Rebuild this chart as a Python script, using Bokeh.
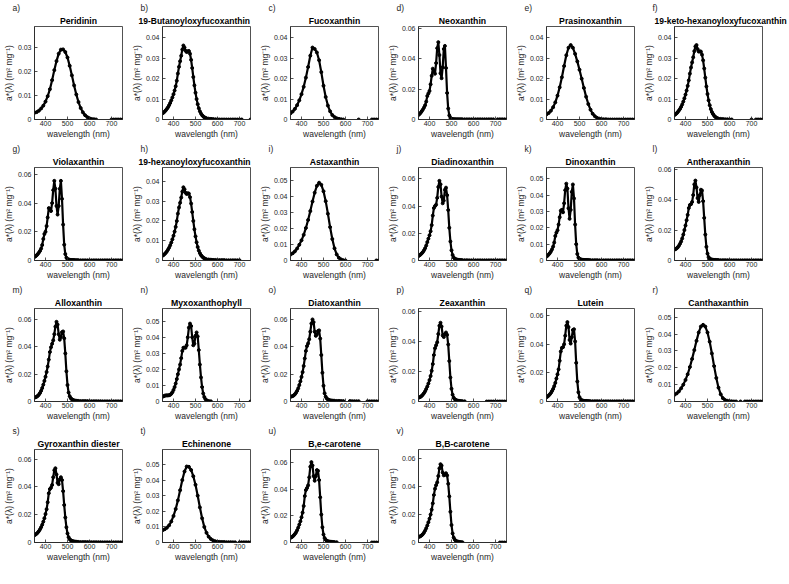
from bokeh.plotting import figure
from bokeh.layouts import gridplot
from bokeh.models import FixedTicker, CustomJSTickFormatter, Range1d, Title, ColumnDataSource
from bokeh.embed import file_html
from bokeh.resources import INLINE

N = float("nan")

# wavelength grids (nm)
WL10 = list(range(350, 751, 10))
WL5 = list(range(350, 551, 5)) + list(range(560, 751, 10))

X_TICKS = [400, 500, 600, 700]
Y_TICKS_01 = [0, 0.01, 0.02, 0.03, 0.04, 0.05, 0.06]
Y_TICKS_02 = [0, 0.02, 0.04, 0.06]

letters = ["a)", "b)", "c)", "d)", "e)", "f)", "g)", "h)", "i)", "j)", "k)",
           "l)", "m)", "n)", "o)", "p)", "q)", "r)", "s)", "t)", "u)", "v)"]
names = ["Peridinin", "19-Butanoyloxyfucoxanthin", "Fucoxanthin", "Neoxanthin",
         "Prasinoxanthin", "19-keto-hexanoyloxyfucoxanthin", "Violaxanthin",
         "19-hexanoyloxyfucoxanthin", "Astaxanthin", "Diadinoxanthin", "Dinoxanthin",
         "Antheraxanthin", "Alloxanthin", "Myxoxanthophyll", "Diatoxanthin", "Zeaxanthin",
         "Lutein", "Canthaxanthin", "Gyroxanthin diester", "Echinenone",
         "B,e-carotene", "B,B-carotene"]
y_max = [0.039, 0.0455, 0.0455, 0.0613, 0.0456, 0.0456, 0.0648, 0.047, 0.058, 0.0683, 0.0569,
         0.0611, 0.0677, 0.0579, 0.068, 0.062, 0.065, 0.0552, 0.067, 0.0596, 0.07, 0.0665]
y_step = [1, 1, 1, 2, 1, 1, 2, 1, 1, 2, 1, 2, 2, 1, 2, 2, 2, 1, 2, 1, 2, 2]

peridinin = [.0028, .0031, .0037, .0046, .0058, .0075, .0098, .0127, .0165, .0207, .0245, .0276, .0293,
             .0294, .0283, .0260, .0225, .0185, .0143, .0105, .0073, .0048, .0030, .0018, .0010, .0005,
             .0002, .0001, 0, N, N, N, N, N, N, 0, 0, 0, 0, 0, 0]
but_fuco = [.0030, .0034, .0039, .0045, .0052, .0060, .0070, .0081, .0094, .0108, .0124, .0142, .0163,
            .0190, .0225, .0258, .0285, .0312, .0342, .0362, .0352, .0336, .0330, .0334, .0335, .0322,
            .0292, .0252, .0208, .0167, .0131, .0100, .0075, .0055, .0040, .0029, .0021, .0015, .0011,
            .0008, .0006,
            .0004, .0003, .0002, .0001, .0001, 0, 0, 0, 0, 0, 0, 0, 0, 0, 0, 0, N, N, N, 0]
fucoxanthin = [.0030, .0039, .0052, .0070, .0094, .0124, .0160, .0205, .0257, .0312, .0352, .0345, .0328,
               .0290, .0232, .0165, .0110, .0068, .0040, .0022, .0012, .0006, .0003, .0001, 0, N, N, N,
               N, N, N, 0, N, N, N, N, N, 0, 0, 0, 0]
neoxanthin = [.0030, .0037, .0045, .0055, .0066, .0079, .0094, .0118, .0155, .0172, .0188, .0232, .0288,
              .0335, .0318, .0302, .0372, .0470, .0510, .0425, .0305, .0272, .0345, .0465, .0485, .0340,
              .0175, .0072, .0027, .0011, .0005, .0003, .0002, .0002, .0001, .0001, .0001, .0001, .0001,
              .0001, .0001,
              .0001, .0001, .0001, .0001, .0001, .0001, .0001, .0001, .0001, .0001, .0001, .0001, .0001,
              .0001, N, .0001, .0001, .0001, .0001, .0001]
prasinoxanthin = [.0025, .0032, .0043, .0060, .0084, .0117, .0158, .0207, .0262, .0315, .0352, .0365,
                  .0352, .0322, .0285, .0244, .0200, .0155, .0112, .0076, .0048, .0028, .0016, .0008,
                  .0004, .0002, .0001, .0001, 0, 0, 0, 0, 0, 0, 0, 0, 0, 0, 0, 0, 0]
keto_hex_fuco = [.0022, .0026, .0031, .0037, .0044, .0052, .0062, .0074, .0088, .0104, .0122, .0142,
                 .0165, .0192, .0225, .0255, .0280, .0305, .0335, .0358, .0365, .0345, .0333, .0334,
                 .0333, .0318, .0290, .0250, .0205, .0162, .0125, .0094, .0070, .0051, .0037, .0027,
                 .0019, .0013, .0009, .0006, .0004,
                 .0003, .0002, .0001, .0001, 0, 0, N, N, N, N, N, N, N, N, 0, N, 0, 0, 0, 0]
violaxanthin = [.0025, .0030, .0037, .0045, .0055, .0067, .0083, .0108, .0150, .0185, .0200, .0240,
                .0300, .0365, .0360, .0345, .0400, .0490, .0555, .0500, .0380, .0320, .0380, .0500,
                .0555, .0430, .0250, .0110, .0045, .0020, .0010, .0007, .0005, .0004, .0003, .0003,
                .0003, .0002, .0002, .0002, .0002,
                .0001, .0001, .0001, .0001, .0001, .0001, .0001, .0001, .0001, .0001, .0001, .0001,
                .0001, .0001, .0001, .0001, .0001, .0001, .0001, .0001]
hex_fuco = [.0024, .0028, .0033, .0039, .0046, .0055, .0065, .0077, .0091, .0107, .0125, .0146, .0170,
            .0200, .0237, .0268, .0292, .0318, .0348, .0370, .0360, .0342, .0336, .0340, .0338, .0320,
            .0288, .0245, .0200, .0158, .0122, .0092, .0068, .0050, .0037, .0027, .0020, .0015, .0011,
            .0008, .0006,
            .0005, .0004, .0003, .0003, .0002, .0002, .0002, .0002, .0001, .0001, .0001, .0001, .0001,
            .0001, .0001, N, N, N, N, N]
astaxanthin = [.0037, .0045, .0057, .0075, .0098, .0126, .0160, .0203, .0253, .0308, .0368, .0423, .0466,
               .0485, .0472, .0432, .0370, .0292, .0208, .0134, .0076, .0038, .0017, .0007, .0002, 0,
               N, N, N, N, N, N, N, N, N, N, N, N, N, 0, 0]
diadinoxanthin = [.0033, .0038, .0045, .0053, .0062, .0075, .0090, .0110, .0135, .0160, .0185, .0215,
                  .0260, .0330, .0385, .0400, .0410, .0460, .0540, .0585, .0560, .0470, .0420, .0440,
                  .0520, .0535, .0480, .0370, .0240, .0140, .0075, .0040, .0022, .0013, .0009, .0007,
                  .0005, .0004, .0003, .0003, .0002,
                  .0002, .0002, .0001, .0001, .0001, .0001, .0001, .0001, .0001, .0001, .0001, .0001,
                  .0001, .0001, .0001, .0001, .0001, .0001, .0001, .0001]
dinoxanthin = [.0024, .0030, .0037, .0045, .0055, .0068, .0085, .0110, .0150, .0170, .0185, .0220, .0265,
               .0305, .0310, .0295, .0350, .0430, .0470, .0440, .0320, .0255, .0310, .0420, .0465, .0380,
               .0220, .0100, .0040, .0018, .0010, .0007, .0005, .0004, .0004, .0003, .0003, .0003, .0003,
               .0002, .0002,
               .0002, .0002, .0002, .0001, .0001, .0001, .0001, .0001, .0001, .0001, .0001, .0001, .0001,
               .0001, .0001, .0001, .0001, .0001, .0001, .0001]
antheraxanthin = [.0072, .0075, .0080, .0087, .0097, .0110, .0125, .0145, .0170, .0200, .0230, .0265,
                  .0300, .0345, .0365, .0370, .0385, .0430, .0500, .0525, .0480, .0410, .0385, .0430,
                  .0465, .0460, .0390, .0280, .0170, .0090, .0045, .0022, .0012, .0008, .0006, .0005,
                  .0004, .0004, .0003, .0003, .0003,
                  .0002, .0002, .0002, .0002, .0002, .0001, .0001, .0001, .0001, .0001, .0001, .0001,
                  .0001, .0001, .0001, .0001, .0001, .0001, .0001, .0001]
alloxanthin = [.0029, .0031, .0035, .0041, .0050, .0062, .0078, .0098, .0122, .0150, .0180, .0215, .0255,
               .0305, .0360, .0395, .0420, .0445, .0490, .0545, .0580, .0560, .0490, .0450, .0470, .0505,
               .0510, .0460, .0350, .0220, .0120, .0065, .0038, .0024, .0016, .0011, .0008, .0006, .0005,
               .0004, .0004,
               .0003, .0003, .0003, .0003, .0002, .0002, .0002, .0002, .0002, .0002, .0001, .0001, .0001,
               .0001, .0001, .0001, .0001, .0001, .0001, .0001]
myxoxanthophyll = [.0030, .0033, .0036, .0038, .0038, .0038, .0039, .0042, .0048, .0058, .0072, .0090,
                   .0112, .0140, .0170, .0200, .0230, .0270, .0315, .0335, .0335, .0335, .0350, .0400,
                   .0460, .0485, .0470, .0400, .0350, .0360, .0410, .0430, .0405, .0320, .0230, .0150,
                   .0090, .0050, .0028, .0015, .0008,
                   .0003, .0001, N, N, N, N, N, N, N, N, N, N, N, N, N, N, N, N, N, 0]
diatoxanthin = [.0035, .0037, .0040, .0045, .0053, .0064, .0078, .0096, .0120, .0148, .0180, .0215, .0260,
                .0315, .0370, .0405, .0425, .0455, .0510, .0570, .0600, .0580, .0510, .0480, .0490, .0515,
                .0520, .0460, .0340, .0210, .0115, .0060, .0035, .0022, .0015, .0011, .0008, .0007, .0006,
                .0005, .0005,
                .0004, .0004, .0003, .0003, N, N, .0003, .0002, .0002, .0002, .0002, N, N, N, .0002,
                .0001, .0001, .0001, .0001, .0001]
zeaxanthin = [.0026, .0028, .0032, .0038, .0046, .0056, .0068, .0083, .0100, .0120, .0143, .0170, .0205,
              .0250, .0310, .0355, .0375, .0395, .0450, .0505, .0525, .0500, .0440, .0430, .0450, .0460,
              .0445, .0380, .0270, .0160, .0085, .0045, .0025, .0015, .0010, .0007, .0005, .0004, .0003,
              .0002, .0002,
              .0001, N, N, N, N, N, N, N, N, N, 0, 0, 0, 0, 0, 0, 0, 0, 0, 0]
lutein = [.0030, .0035, .0042, .0050, .0060, .0073, .0088, .0107, .0130, .0160, .0190, .0225, .0285, .0350,
          .0375, .0380, .0400, .0460, .0530, .0555, .0520, .0430, .0405, .0450, .0500, .0505, .0420, .0270,
          .0140, .0065, .0030, .0015, .0009, .0006, .0005, .0004, .0004, .0003, .0003, .0002, .0002,
          .0002, .0002, .0002, .0002, .0001, .0001, .0001, .0001, .0001, .0001, .0001, .0001, .0001,
          .0001, .0001, .0001, .0001, .0001, .0001, .0001]
canthaxanthin = [.0040, .0048, .0060, .0078, .0100, .0128, .0162, .0205, .0253, .0305, .0360, .0410, .0445,
                 .0455, .0445, .0410, .0355, .0285, .0210, .0140, .0082, .0043, .0020, .0009, .0004,
                 .0002, .0001, 0, 0, N, 0, N, 0, 0, 0, 0, 0, 0, 0, 0, 0]
gyroxanthin = [.0053, .0058, .0064, .0072, .0082, .0095, .0110, .0128, .0150, .0175, .0205, .0240, .0290,
               .0355, .0385, .0395, .0415, .0470, .0520, .0535, .0490, .0430, .0420, .0455, .0470, .0450,
               .0370, .0270, .0180, .0110, .0065, .0038, .0024, .0016, .0012, .0009, .0007, .0006, .0005,
               .0004, .0004,
               .0003, .0003, .0003, .0003, .0003, .0002, .0002, .0002, .0002, .0002, .0001, .0001, .0001,
               .0001, .0001, .0001, .0001, .0001, .0001, .0001]
echinenone = [.0078, .0085, .0095, .0110, .0135, .0170, .0215, .0270, .0335, .0400, .0455, .0487, .0485,
              .0465, .0425, .0370, .0300, .0225, .0155, .0100, .0062, .0037, .0022, .0013, .0008, .0005,
              .0004, .0003, .0003, .0002, .0002, .0002, .0001, .0001, N, .0001, .0001, .0001, .0001,
              .0001, .0001]
be_carotene = [.0035, .0040, .0046, .0054, .0064, .0076, .0092, .0112, .0135, .0160, .0190, .0225, .0275,
               .0350, .0395, .0410, .0430, .0490, .0570, .0605, .0580, .0500, .0465, .0500, .0545, .0540,
               .0470, .0340, .0210, .0115, .0060, .0033, .0020, .0013, .0009, .0007, .0006, .0005, .0004,
               .0003, .0003,
               .0002, N, N, N, N, N, N, N, N, N, N, N, N, N, N, N, 0, 0, 0, 0]
bb_carotene = [.0040, .0042, .0046, .0052, .0060, .0071, .0085, .0102, .0122, .0145, .0170, .0200, .0235,
               .0280, .0340, .0385, .0410, .0430, .0475, .0530, .0560, .0550, .0500, .0480, .0485, .0495,
               .0480, .0420, .0330, .0220, .0125, .0065, .0035, .0020, .0012, .0008, .0006, .0004, .0003,
               .0002, .0001,
               N, N, N, N, N, N, N, N, N, N, N, N, N, N, N, N, 0, 0, 0, 0]

spectra = [peridinin, but_fuco, fucoxanthin, neoxanthin, prasinoxanthin, keto_hex_fuco, violaxanthin,
           hex_fuco, astaxanthin, diadinoxanthin, dinoxanthin, antheraxanthin, alloxanthin,
           myxoxanthophyll, diatoxanthin, zeaxanthin, lutein, canthaxanthin, gyroxanthin, echinenone,
           be_carotene, bb_carotene]

FONT = "Liberation Sans"
INK = "#262626"
FW, FH = 88, 93
L, R = 34, 6
# long titles: left-aligned with a shift so they stay inside their panel
long_title = {1: (-24, "8.5px"), 5: (-20, "8.5px"), 7: (-24, "8.5px")}

figs = []
for i, vals in enumerate(spectra):
    wl = WL10 if len(vals) == len(WL10) else WL5
    assert len(wl) == len(vals), (names[i], len(vals))
    ticks = Y_TICKS_01 if y_step[i] == 1 else Y_TICKS_02
    extra = 19 if i % 6 == 5 else 0
    p = figure(frame_width=FW, frame_height=FH, x_range=Range1d(350, 750),
               y_range=Range1d(0, y_max[i]),
               output_backend="svg", toolbar_location=None, title=None,
               min_border_left=L, min_border_right=R + extra,
               min_border_top=5, min_border_bottom=5)
    if i in long_title:
        off, fs = long_title[i]
        name_title = Title(text=names[i], align="left", offset=off, standoff=2,
                           text_font=FONT, text_font_size=fs, text_font_style="bold",
                           text_color="black")
    else:
        name_title = Title(text=names[i], align="center", standoff=2,
                           text_font=FONT, text_font_size="8.7px", text_font_style="bold",
                           text_color="black")
    p.add_layout(name_title, "above")
    p.add_layout(Title(text=letters[i], align="left", offset=-22, standoff=0,
                       text_font=FONT, text_font_size="8.5px", text_font_style="normal",
                       text_color=INK), "above")
    p.xgrid.visible = False
    p.ygrid.visible = False
    p.outline_line_color = INK
    p.outline_line_width = 0.8
    for ax in (p.xaxis[0], p.yaxis[0]):
        ax.major_tick_in = 3
        ax.major_tick_out = 0
        ax.minor_tick_in = 0
        ax.minor_tick_out = 0
        ax.axis_line_color = INK
        ax.axis_line_width = 0.8
        ax.major_tick_line_color = INK
        ax.major_tick_line_width = 0.8
        ax.major_label_text_font = FONT
        ax.major_label_text_font_size = "7px"
        ax.major_label_text_color = INK
        ax.axis_label_text_font = FONT
        ax.axis_label_text_font_size = "8.5px"
        ax.axis_label_text_font_style = "normal"
        ax.axis_label_text_color = INK
    p.xaxis.ticker = FixedTicker(ticks=X_TICKS)
    p.yaxis.ticker = FixedTicker(ticks=ticks)
    p.yaxis.formatter = CustomJSTickFormatter(code="return String(Math.round(tick*1000)/1000);")
    p.xaxis.axis_label = "wavelength (nm)"
    p.yaxis.axis_label = "a*(λ) (m² mg⁻¹)"
    p.xaxis.major_label_standoff = 1
    p.xaxis.axis_label_standoff = 0
    p.yaxis.major_label_standoff = 3
    p.yaxis.axis_label_standoff = 1

    src = ColumnDataSource(dict(x=wl, y=vals))
    p.line("x", "y", source=src, line_color="black", line_width=2.2)
    p.scatter("x", "y", source=src, size=3, color="black")
    figs.append(p)

grid = gridplot(figs, ncols=6, toolbar_location=None)

open("out.html", "w").write(file_html(grid, INLINE, title="Pigment absorption spectra"))
